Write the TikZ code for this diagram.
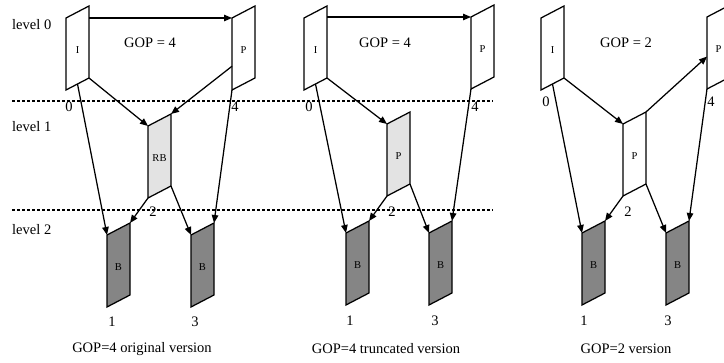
\documentclass[tikz,border=0pt]{standalone}
\usepackage{fontspec}
\setmainfont{Liberation Serif}
\usepackage{tikz}
\usetikzlibrary{arrows.meta,calc}
\definecolor{RBgray}{HTML}{E3E3E3}
\definecolor{Bgray}{HTML}{858585}

% one slanted picture frame: name, left x, top y, fill, letter
\newcommand{\gopframe}[5]{%
  \coordinate (#1-tl) at (#2,#3);
  \coordinate (#1-tr) at (#2+23,#3-12);
  \coordinate (#1-br) at (#2+23,#3+60);
  \coordinate (#1-bl) at (#2,#3+72);
  \draw[frm, fill=#4] (#1-tl) -- (#1-tr) -- (#1-br) -- (#1-bl) -- cycle;
  \node[frmtxt] (#1) at (#2+11.5,#3+32) {#5};
}

\begin{document}
\begin{tikzpicture}[x=1pt, y=-1pt,
    frm/.style={draw, line width=1.25pt},
    frmtxt/.style={font=\fontsize{10.5}{12}\selectfont, inner sep=0pt},
    txt/.style={font=\fontsize{14.5}{17}\selectfont, inner sep=0pt},
    arr/.style={line width=1.25pt, -{Triangle[length=8pt,width=6.5pt]}},
    lvl/.style={dashed, dash pattern=on 3pt off 2pt, line width=1.2pt}]
  \useasboundingbox (0,0) rectangle (724,363);

  % levels
  \node[txt, anchor=west] (lev0) at (12,25) {level 0};
  \node[txt, anchor=west] (lev1) at (12,127) {level 1};
  \node[txt, anchor=west] (lev2) at (12,230) {level 2};
  \draw[lvl] (12,101) -- (493,101);
  \draw[lvl] (12,210) -- (493,210);

  % GOP=4 original version
  \gopframe{lI}{66}{18}{white}{I}
  \gopframe{lP}{232}{18}{white}{P}
  \gopframe{lRB}{148}{126}{RBgray}{RB}
  \gopframe{lB1}{107}{235}{Bgray}{B}
  \gopframe{lB2}{191}{235}{Bgray}{B}
  \node[txt] (lgop) at (150,43) {GOP = 4};
  \node[txt] (ln0) at (69,107) {0};
  \node[txt] (ln4) at (235,107) {4};
  \node[txt] (ln2) at (153,212) {2};
  \node[txt] (ln1) at (112,322) {1};
  \node[txt] (ln3) at (195,322) {3};
  \node[txt] (lcap) at (142,349) {GOP=4 original version};
  \draw[arr] (lI-tr |- lP-tl) -- (lP-tl);
  \draw[arr] (lI-br) -- (lRB-tl);
  \draw[arr] ($(lP-tl)!0.67!(lP-bl)$) -- (lRB-tr);
  \draw[arr] ($(lI-bl)!0.5!(lI-br)$) -- (lB1-tl);
  \draw[arr] (lP-bl) -- (lB2-tr);
  \draw[arr] (lRB-bl) -- (lB1-tr);
  \draw[arr] (lRB-br) -- (lB2-tl);

  % GOP=4 truncated version
  \gopframe{mI}{304}{18}{white}{I}
  \gopframe{mP}{471}{17}{white}{P}
  \gopframe{mPm}{387}{124}{RBgray}{P}
  \gopframe{mB1}{346}{233}{Bgray}{B}
  \gopframe{mB2}{429}{233}{Bgray}{B}
  \node[txt] (mgop) at (385,43) {GOP = 4};
  \node[txt] (mn0) at (309,107) {0};
  \node[txt] (mn4) at (475,107) {4};
  \node[txt] (mn2) at (392,212) {2};
  \node[txt] (mn1) at (350,321) {1};
  \node[txt] (mn3) at (435,321) {3};
  \node[txt] (mcap) at (386,349) {GOP=4 truncated version};
  \draw[arr] (mI-tr |- mP-tl) -- (mP-tl);
  \draw[arr] (mI-br) -- (mPm-tl);
  \draw[arr] ($(mI-bl)!0.5!(mI-br)$) -- (mB1-tl);
  \draw[arr] (mP-bl) -- (mB2-tr);
  \draw[arr] (mPm-bl) -- (mB1-tr);
  \draw[arr] (mPm-br) -- (mB2-tl);

  % GOP=2 version
  \gopframe{rI}{541}{18}{white}{I}
  \gopframe{rP}{707}{17}{white}{P}
  \gopframe{rPm}{623}{124}{white}{P}
  \gopframe{rB1}{582}{233}{Bgray}{B}
  \gopframe{rB2}{666}{233}{Bgray}{B}
  \node[txt] (rgop) at (626,43) {GOP = 2};
  \node[txt] (rn0) at (546,102) {0};
  \node[txt] (rn4) at (711,102) {4};
  \node[txt] (rn2) at (628,212) {2};
  \node[txt] (rn1) at (584,321) {1};
  \node[txt] (rn3) at (668,321) {3};
  \node[txt] (rcap) at (626,349) {GOP=2 version};
  \draw[arr] (rI-br) -- (rPm-tl);
  \draw[arr] (rPm-tr) -- ($(rP-tl)!0.55!(rP-bl)$);
  \draw[arr] ($(rI-bl)!0.5!(rI-br)$) -- (rB1-tl);
  \draw[arr] (rP-bl) -- (rB2-tr);
  \draw[arr] (rPm-bl) -- (rB1-tr);
  \draw[arr] (rPm-br) -- (rB2-tl);
\end{tikzpicture}
\end{document}
